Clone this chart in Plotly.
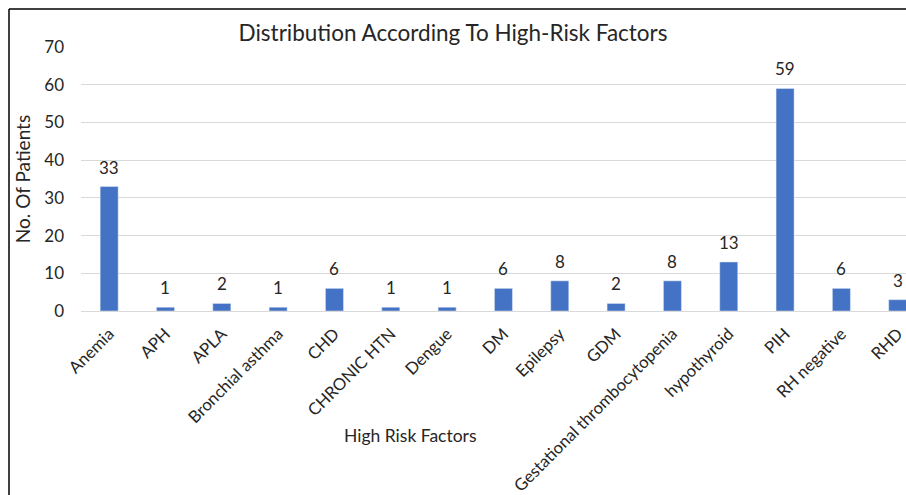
import plotly.graph_objects as go

categories = ["Anemia", "APH", "APLA", "Bronchial asthma", "CHD", "CHRONIC HTN",
              "Dengue", "DM", "Epilepsy", "GDM", "Gestational thrombocytopenia",
              "hypothyroid", "PIH", "RH negative", "RHD"]
patients = [33, 1, 2, 1, 6, 1, 1, 6, 8, 2, 8, 13, 59, 6, 3]
y_ticks = [0, 10, 20, 30, 40, 50, 60, 70]

W, H = 906, 495
L, R, T, B = 81, 0, 47, 184
pw, ph = W - L - R, H - T - B

def px_x(p):
    return (p - L) / pw

def px_y(p):
    return (H - B - p) / ph

FONT = "Lato, Open Sans, sans-serif"
TXT = "#262626"

xs = list(range(len(categories)))

fig = go.Figure(go.Bar(
    x=xs,
    y=patients,
    marker_color="#4472C4",
    cliponaxis=False,
))

# value labels above each bar
value_labels = [dict(
    x=x, y=v, xref="x", yref="y", text=str(v), showarrow=False,
    xanchor="center", yanchor="bottom", yshift=7,
    font=dict(size=17, color=TXT, family=FONT),
) for x, v in zip(xs, patients)]

fig.update_layout(
    width=W, height=H,
    margin=dict(l=L, r=R, t=T, b=B),
    paper_bgcolor="white", plot_bgcolor="white",
    bargap=0.68,
    showlegend=False,
    font=dict(family=FONT, color=TXT),
    title=dict(text="Distribution According To High-Risk Factors",
               x=0.5, xref="container", xanchor="center",
               y=1 - 33 / H, yref="container", yanchor="middle",
               font=dict(size=22.5, color=TXT, family=FONT)),
    xaxis=dict(
        tickmode="array",
        tickvals=xs,
        ticktext=categories,
        tickangle=-45,
        tickfont=dict(size=16.7, color=TXT, family=FONT),
        ticklabelstandoff=9,
        ticklabeloverflow="allow",
        range=[-0.5, 14.147],
        showgrid=False, ticks="", showline=False, zeroline=False,
    ),
    yaxis=dict(
        range=[0, 70],
        tickvals=y_ticks,
        tickfont=dict(size=17, color=TXT, family=FONT),
        ticklabelstandoff=16,
        showgrid=True, gridcolor="#D9D9D9", gridwidth=1,
        zeroline=True, zerolinecolor="#D9D9D9", zerolinewidth=1,
        ticks="", showline=False,
        title=dict(text="No. Of Patients", font=dict(size=19, color=TXT, family=FONT),
                   standoff=8),
    ),
    annotations=value_labels + [dict(
        text="High Risk Factors", xref="paper", yref="paper",
        x=px_x(410), y=px_y(435), xanchor="center", yanchor="middle",
        showarrow=False, font=dict(size=17.5, color=TXT, family=FONT),
    )],
    shapes=[
        dict(type="line", xref="paper", yref="paper",
             x0=px_x(9), x1=px_x(9), y0=px_y(9), y1=px_y(H + 5),
             line=dict(color="black", width=1.5)),
        dict(type="line", xref="paper", yref="paper",
             x0=px_x(9), x1=px_x(W + 5), y0=px_y(9), y1=px_y(9),
             line=dict(color="black", width=1.5)),
    ],
)

fig.write_html("out.html")
